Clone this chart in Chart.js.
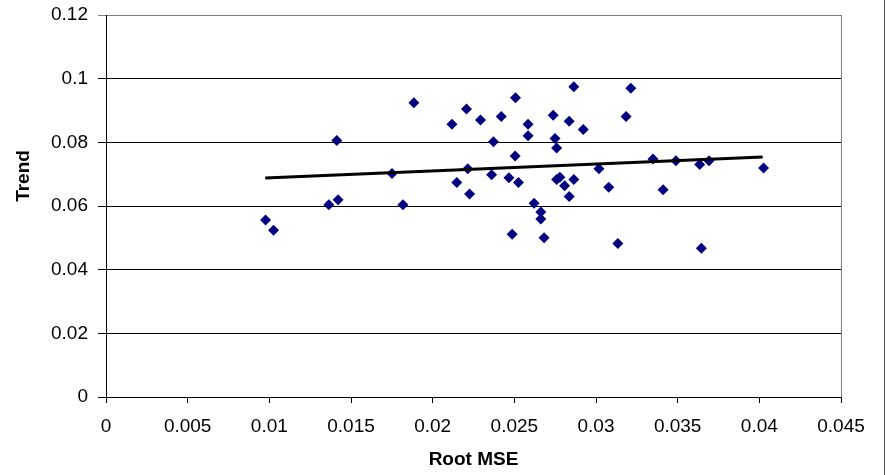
<!DOCTYPE html>
<html>
<head>
<meta charset="utf-8">
<script src="https://cdn.jsdelivr.net/npm/chart.js@4.4.1/dist/chart.umd.min.js"></script>
<style>
  html, body { margin: 0; padding: 0; background: #fff; }
</style>
</head>
<body>
<canvas id="scatterChart" width="888" height="475"></canvas>
<script>
// Root MSE (x) and Trend (y) per point
const rootMse = [
    0.00977, 0.01026, 0.01364, 0.01413, 0.01421, 0.01751, 0.01818, 0.01885,
    0.02118, 0.02148, 0.02207, 0.02215, 0.02226, 0.02293, 0.02361, 0.02372,
    0.02420, 0.02467, 0.02487, 0.02505, 0.02507, 0.02525, 0.02584, 0.02584,
    0.02621, 0.02662, 0.02662, 0.02682, 0.02738, 0.02749, 0.02759, 0.02759,
    0.02779, 0.02808, 0.02836, 0.02836, 0.02864, 0.02864, 0.02922, 0.03018,
    0.03078, 0.03134, 0.03184, 0.03213, 0.03349, 0.03411, 0.03489, 0.03635,
    0.03645, 0.03692, 0.04026
];
const trend = [
    0.0556, 0.0524, 0.0604, 0.0806, 0.0620, 0.0702, 0.0604, 0.0924,
    0.0857, 0.0674, 0.0905, 0.0717, 0.0638, 0.0870, 0.0698, 0.0802,
    0.0881, 0.0689, 0.0511, 0.0757, 0.0940, 0.0674, 0.0857, 0.0821,
    0.0609, 0.0581, 0.0559, 0.0500, 0.0885, 0.0812, 0.0782, 0.0683,
    0.0690, 0.0664, 0.0866, 0.0630, 0.0975, 0.0683, 0.0840, 0.0717,
    0.0659, 0.0482, 0.0881, 0.0970, 0.0748, 0.0651, 0.0742, 0.0730,
    0.0467, 0.0742, 0.0719
];

// fitted trend line end points
const fitX = [0.00975, 0.0402];
const fitY = [0.0688, 0.0754];

const xTickLabels = ["0", "0.005", "0.01", "0.015", "0.02", "0.025", "0.03", "0.035", "0.04", "0.045"];
const yTickLabels = ["0", "0.02", "0.04", "0.06", "0.08", "0.1", "0.12"];

const points = rootMse.map((x, i) => ({ x: x, y: trend[i] }));
const fitLine = fitX.map((x, i) => ({ x: x, y: fitY[i] }));

const tickFont = { family: "'Liberation Sans', Arial, sans-serif", size: 19 };
const titleFont = { family: "'Liberation Sans', Arial, sans-serif", size: 19, weight: "bold" };

const ctx = document.getElementById("scatterChart").getContext("2d");

new Chart(ctx, {
    type: 'scatter',

    data: {
        datasets: [{
            label: 'Trend',
            data: points,
            pointStyle: 'rectRot',
            pointRadius: 5.5,
            backgroundColor: "#000080",
            borderColor: "#000080",
            borderWidth: 0,
            order: 2
        }, {
            type: 'line',
            label: 'Linear fit',
            data: fitLine,
            showLine: true,
            borderColor: "#000000",
            borderWidth: 3,
            pointRadius: 0,
            fill: false,
            order: 1
        }]
    },

    options: {
        responsive: false,
        animation: false,

        layout: {
            padding: { top: 15, right: 47, bottom: 0, left: 0 }
        },

        plugins: {
            legend: { display: false },
            tooltip: { enabled: false }
        },

        scales: {
            x: {
                type: 'linear',
                min: 0,
                max: 0.045,
                afterBuildTicks: (scale) => {
                    scale.ticks = xTickLabels.map(t => ({ value: parseFloat(t) }));
                },
                afterFit: (scale) => { scale.height = 78; },
                ticks: {
                    color: "#000",
                    font: tickFont,
                    padding: 12,
                    maxRotation: 0,
                    callback: (v, i) => xTickLabels[i]
                },
                grid: {
                    drawOnChartArea: false,
                    color: "#000",
                    tickLength: 6
                },
                border: { color: "#000", width: 1 },
                title: {
                    display: true,
                    text: "Root MSE",
                    color: "#000",
                    font: titleFont,
                    padding: { top: 0, bottom: 4 }
                }
            },

            y: {
                min: 0,
                max: 0.12,
                afterBuildTicks: (scale) => {
                    scale.ticks = yTickLabels.map(t => ({ value: parseFloat(t) }));
                },
                afterFit: (scale) => {
                    scale.width = 106;
                    scale.paddingTop = 0;
                    scale.paddingBottom = 0;
                },
                ticks: {
                    color: "#000",
                    font: tickFont,
                    padding: 10,
                    callback: (v, i) => yTickLabels[i]
                },
                grid: {
                    color: (c) => c.index === yTickLabels.length - 1 ? "#808080" : "#000",
                    tickLength: 8
                },
                border: { color: "#000", width: 1 }
            }
        }
    },

    plugins: [{
        id: "frameAndTitle",

        beforeDatasetsDraw: (chart) => {
            const c = chart.ctx;
            const a = chart.chartArea;
            c.save();
            c.strokeStyle = "#808080";
            c.lineWidth = 1;
            c.beginPath();
            c.moveTo(Math.round(a.right) + 0.5, a.top);
            c.lineTo(Math.round(a.right) + 0.5, a.bottom);
            c.stroke();
            c.restore();
        },

        afterDraw: (chart) => {
            const c = chart.ctx;
            c.save();
            // outer frame edge on the right
            c.strokeStyle = "#555";
            c.lineWidth = 1;
            c.beginPath();
            c.moveTo(884.5, 0);
            c.lineTo(884.5, 475);
            c.stroke();
            // y axis title
            c.translate(24, 176);
            c.rotate(-Math.PI / 2);
            c.fillStyle = "#000";
            c.font = "bold 19px 'Liberation Sans', Arial, sans-serif";
            c.textAlign = "center";
            c.textBaseline = "middle";
            c.fillText("Trend", 0, 0);
            c.restore();
        }
    }]
});
</script>
</body>
</html>
